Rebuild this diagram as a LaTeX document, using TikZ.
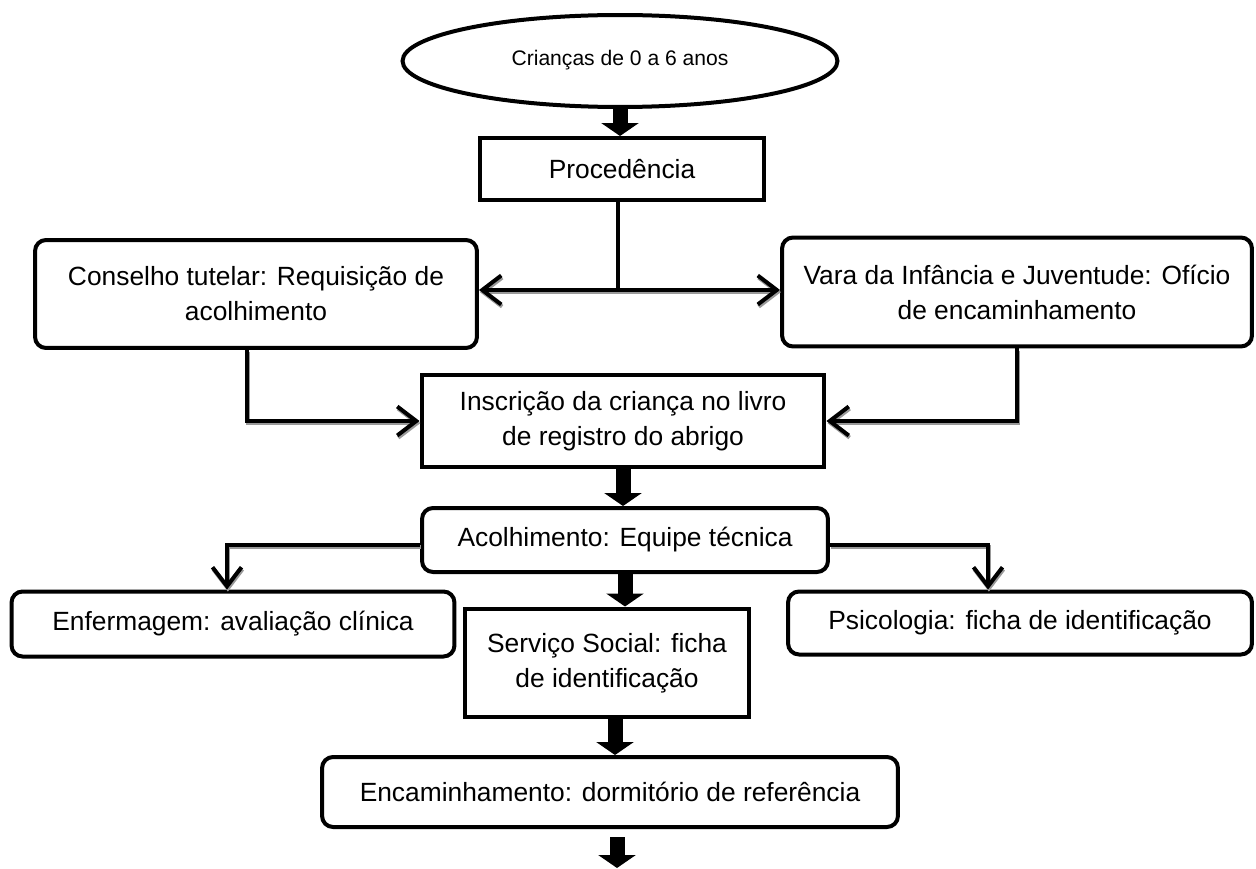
\documentclass[tikz,border=0pt]{standalone}
\usepackage{fontspec}
\setmainfont{Liberation Sans}
\usetikzlibrary{positioning,arrows.meta,shapes.geometric}

\tikzset{
  caixa/.style={draw, line width=0.08cm, inner sep=0pt, align=center,
    font=\fontsize{15}{20}\selectfont},
  redonda/.style={caixa, rounded corners=0.22cm},
  bloco/.style={line width=0.3cm, -{Triangle[length=0.26cm,width=0.74cm]}},
  liga/.style={line width=0.08cm, -{Straight Barb[length=0.38cm,width=0.58cm]},
    preaction={draw=black!40, line width=0.08cm, transform canvas={shift={(0.5pt,-1.2pt)}}}},
}

\begin{document}
\begin{tikzpicture}[x=0.02cm,y=-0.02cm]
\useasboundingbox (0,0) rectangle (1256,868);
\node[ellipse, draw, line width=0.08cm, inner sep=0pt, minimum width=8.7cm, minimum height=1.84cm,
  font=\fontsize{12}{15}\selectfont] (criancas) at (620,61) {\raisebox{4pt}{Crianças de 0 a 6 anos}};
\node[caixa, minimum width=5.7cm, minimum height=1.24cm] (proc) at (622,169) {Procedência};
\node[redonda, minimum width=8.84cm, minimum height=2.16cm] (conselho) at (256,294) {Conselho tutelar: Requisição de\\acolhimento};
\node[redonda, minimum width=9.4cm, minimum height=2.18cm] (vara) at (1017,292) {Vara da Infância e Juventude: Ofício\\de encaminhamento};
\node[caixa, minimum width=8.06cm, minimum height=1.86cm] (inscr) at (623,421) {Inscrição da criança no livro\\de registro do abrigo};
\node[redonda, minimum width=8.12cm, minimum height=1.28cm] (acolh) at (625,540) {Acolhimento: Equipe técnica};
\node[redonda, minimum width=8.86cm, minimum height=1.3cm] (enferm) at (233,624) {Enfermagem: avaliação clínica};
\node[redonda, minimum width=9.28cm, minimum height=1.26cm] (psico) at (1020,623) {Psicologia: ficha de identificação};
\node[caixa, minimum width=5.7cm, minimum height=2.18cm] (servico) at (607,663) {Serviço Social: ficha\\de identificação};
\node[redonda, minimum width=11.52cm, minimum height=1.4cm] (encam) at (610,792) {Encaminhamento: dormitório de referência};
\coordinate (split) at (618,290);
\coordinate (fim) at (617,868);

\draw[bloco] (criancas.south) -- (criancas.south |- proc.north);
\draw[line width=0.08cm] (proc.south -| split) -- (split);
\draw[liga, {Straight Barb[length=0.38cm,width=0.58cm]}-{Straight Barb[length=0.38cm,width=0.58cm]}] (split -| conselho.east) -- (split -| vara.west);
\draw[liga] ([xshift=-0.18cm]conselho.south) |- (inscr.west);
\draw[liga] (vara.south) |- (inscr.east);
\draw[bloco] (inscr.south) -- (inscr.south |- acolh.north);
\draw[liga] ([yshift=-0.1cm]acolh.west) -| ([xshift=-0.12cm]enferm.north);
\draw[liga] ([yshift=-0.1cm]acolh.east) -| ([xshift=-0.64cm]psico.north);
\draw[bloco] (acolh.south) -- (acolh.south |- servico.north);
\draw[bloco] ([xshift=0.16cm]servico.south) -- ([xshift=0.16cm]servico.south |- encam.north);
\draw[bloco] ([yshift=-0.16cm]encam.south -| fim) -- (fim);
\end{tikzpicture}
\end{document}
